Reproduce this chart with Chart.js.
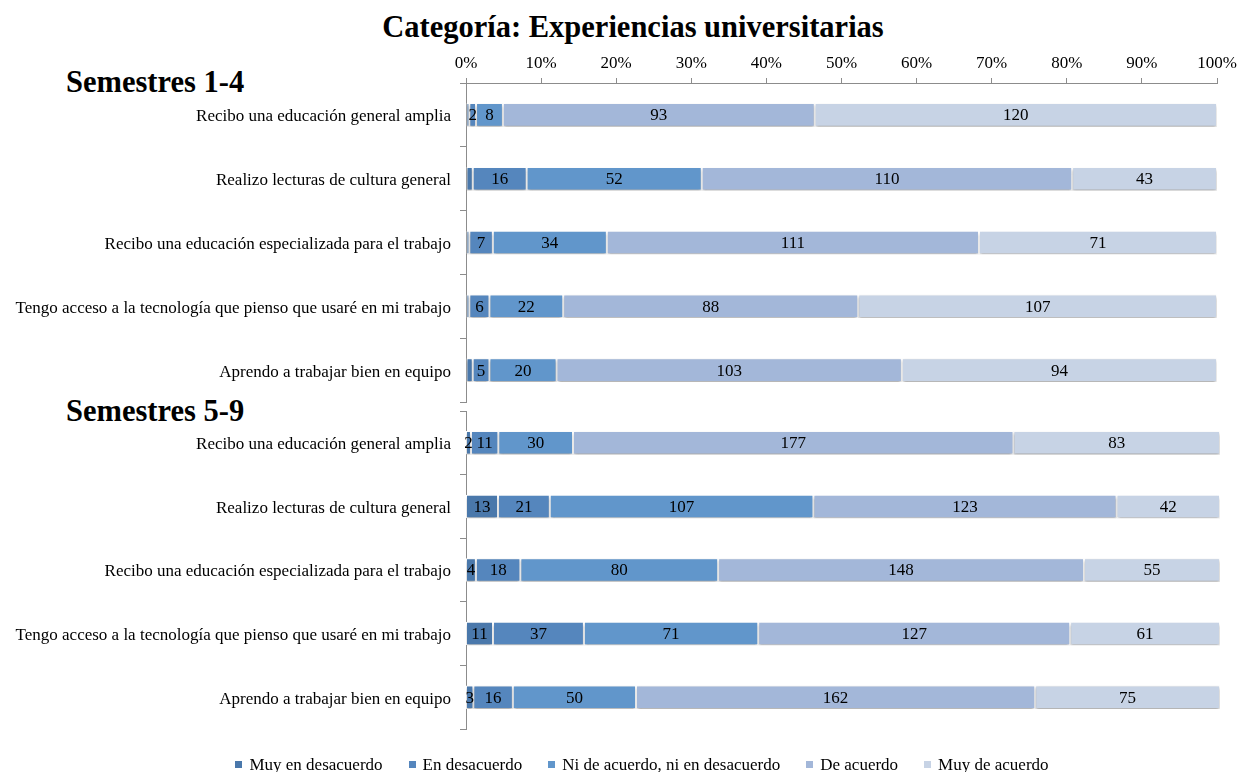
<!DOCTYPE html>
<html>
<head>
<meta charset="utf-8">
<script src="https://cdn.jsdelivr.net/npm/chart.js@4.4.0/dist/chart.umd.min.js"></script>
<style>
  body { margin: 0; background: #fff; font-family: "Liberation Serif", "Times New Roman", serif; }
  #page { position: relative; width: 1238px; height: 772px; overflow: hidden; }
  .box { position: absolute; left: 0; }
  #title { position: absolute; top: 10px; left: 0; width: 1266px; text-align: center; font-weight: bold; font-size: 30.5px; }
  .group { position: absolute; left: 66px; font-weight: bold; font-size: 30.5px; }
  #legend { position: absolute; top: 755px; left: 23px; width: 1238px; display: flex; justify-content: center; gap: 26px; font-size: 17px; }
  #legend span.sw { display: inline-block; width: 7px; height: 7px; margin-right: 7px; vertical-align: 2px; }
</style>
</head>
<body>
<div id="page">
  <div id="title">Categoría: Experiencias universitarias</div>
  <div class="group" style="top:65px">Semestres 1-4</div>
  <div class="group" style="top:394px">Semestres 5-9</div>
  <div class="box" style="top:0"><canvas id="chartTop" width="1238" height="405"></canvas></div>
  <div class="box" style="top:405px"><canvas id="chartBottom" width="1238" height="360"></canvas></div>
  <div id="legend"></div>
</div>
<script>
var categories = [
  "Recibo una educación general amplia",
  "Realizo lecturas de cultura general",
  "Recibo una educación especializada para el trabajo",
  "Tengo acceso a la tecnología que pienso que usaré en mi trabajo",
  "Aprendo a trabajar bien en equipo"
];
var seriesNames = ["Muy en desacuerdo", "En desacuerdo", "Ni de acuerdo, ni en desacuerdo", "De acuerdo", "Muy de acuerdo"];
var seriesColors = ["#4a78ab", "#5586bd", "#6196cb", "#a3b7d9", "#c7d3e5"];

// Semestres 1-4 (counts)
var muyDes1 = [1, 2, 1, 1, 2];
var des1    = [2, 16, 7, 6, 5];
var ni1     = [8, 52, 34, 22, 20];
var de1     = [93, 110, 111, 88, 103];
var muyDe1  = [120, 43, 71, 107, 94];

// Semestres 5-9 (counts)
var muyDes2 = [2, 13, 4, 11, 3];
var des2    = [11, 21, 18, 37, 16];
var ni2     = [30, 107, 80, 71, 50];
var de2     = [177, 123, 148, 127, 162];
var muyDe2  = [83, 42, 55, 61, 75];

var percentTicks = [0, 10, 20, 30, 40, 50, 60, 70, 80, 90, 100];

function buildDatasets(series) {
  var totals = categories.map(function (c, j) {
    return series.reduce(function (s, arr) { return s + arr[j]; }, 0);
  });
  return series.map(function (arr, i) {
    return {
      label: seriesNames[i],
      counts: arr,
      data: arr.map(function (v, j) { return v / totals[j] * 100; }),
      backgroundColor: seriesColors[i],
      borderColor: "#ffffff",
      borderWidth: 1,
      borderSkipped: false,
      barPercentage: 0.37,
      categoryPercentage: 1
    };
  });
}

// soft shadow under the bars + the count written in each segment
var barDecor = {
  id: "barDecor",
  beforeDatasetsDraw: function (chart) {
    var ctx = chart.ctx;
    ctx.save();
    ctx.shadowColor = "rgba(0,0,0,0.35)";
    ctx.shadowBlur = 3;
    ctx.shadowOffsetY = 2;
  },
  afterDatasetsDraw: function (chart, args, opts) {
    var ctx = chart.ctx;
    ctx.restore();
    ctx.save();
    ctx.font = '17px "Liberation Serif"';
    ctx.fillStyle = "#000";
    ctx.textAlign = "center";
    ctx.textBaseline = "middle";
    chart.data.datasets.forEach(function (ds, i) {
      if (i < opts.from) return;
      chart.getDatasetMeta(i).data.forEach(function (bar, j) {
        ctx.fillText(ds.counts[j], (bar.x + bar.base) / 2, bar.y + 1);
      });
    });
    ctx.restore();
  }
};

function makeChart(id, series, showTop, padding, labelFrom) {
  return new Chart(document.getElementById(id), {
    type: "bar",
    data: { labels: categories, datasets: buildDatasets(series) },
    plugins: [barDecor],
    options: {
      indexAxis: "y",
      responsive: false,
      animation: false,
      layout: { padding: padding },
      plugins: {
        legend: { display: false },
        tooltip: { enabled: false },
        barDecor: { from: labelFrom }
      },
      scales: {
        x: {
          display: showTop,
          position: "top",
          stacked: true,
          min: 0,
          max: 100,
          afterBuildTicks: function (scale) {
            scale.ticks = percentTicks.map(function (v) { return { value: v }; });
          },
          afterFit: function (scale) {
            scale.height = showTop ? 83 : 0;
            scale.paddingLeft = 0;
            scale.paddingRight = 0;
          },
          grid: { drawOnChartArea: false, tickLength: 5, color: "#8c8c8c" },
          border: { color: "#8c8c8c" },
          ticks: {
            padding: 4,
            color: "#000",
            font: { family: "Liberation Serif", size: 17 },
            callback: function (v) { return v + "%"; }
          }
        },
        y: {
          stacked: true,
          afterFit: function (scale) {
            scale.width = 466;
            scale.paddingTop = 0;
            scale.paddingBottom = 0;
          },
          grid: { drawOnChartArea: false, tickLength: 6, color: "#8c8c8c" },
          border: { color: "#8c8c8c" },
          ticks: {
            padding: 9,
            labelOffset: 2,
            color: "#000",
            font: { family: "Liberation Serif", size: 17 }
          }
        }
      }
    }
  });
}

makeChart("chartTop", [muyDes1, des1, ni1, de1, muyDe1], true, { left: 0, right: 21, top: 0, bottom: 3 }, 1);
makeChart("chartBottom", [muyDes2, des2, ni2, de2, muyDe2], false, { left: 0, right: 18, top: 6, bottom: 36 }, 0);

var legend = document.getElementById("legend");
seriesNames.forEach(function (name, i) {
  var item = document.createElement("div");
  item.innerHTML = '<span class="sw" style="background:' + seriesColors[i] + '"></span>' + name;
  legend.appendChild(item);
});
</script>
</body>
</html>
